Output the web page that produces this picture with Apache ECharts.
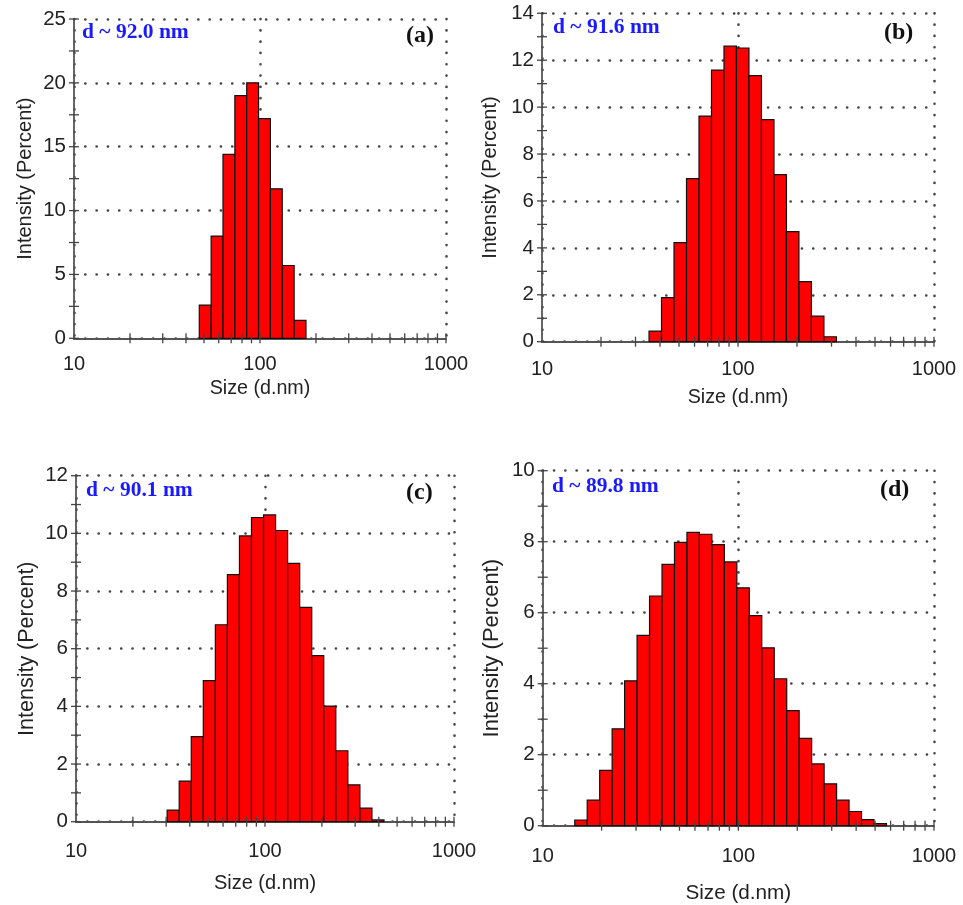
<!DOCTYPE html>
<html>
<head>
<meta charset="utf-8">
<script src="https://cdn.jsdelivr.net/npm/echarts@6/dist/echarts.min.js"></script>
<style>
html,body{margin:0;padding:0;background:#ffffff;}
#chart{width:963px;height:905px;}
</style>
</head>
<body>
<div id="chart"></div>
<script>
// ---- Data (size class centres in nm, intensity in %) ----
const sizesA = [50.75, 58.77, 68.06, 78.82, 91.28, 105.7, 122.4, 141.8, 164.2];
const intensityA = [2.6, 8.0, 14.4, 19.0, 20.0, 17.2, 11.7, 5.7, 1.4];

const sizesB = [37.84, 43.82, 50.75, 58.77, 68.06, 78.82, 91.28, 105.7, 122.4, 141.8, 164.2, 190.1, 220.2, 255.0, 295.3];
const intensityB = [0.45, 1.88, 4.22, 6.95, 9.62, 11.58, 12.6, 12.52, 11.34, 9.47, 7.12, 4.69, 2.56, 1.09, 0.21];

const sizesC = [32.67, 37.84, 43.82, 50.75, 58.77, 68.06, 78.82, 91.28, 105.7, 122.4, 141.8, 164.2, 190.1, 220.2, 255.0, 295.3, 342.0, 396.1];
const intensityC = [0.40, 1.41, 2.95, 4.89, 6.83, 8.57, 9.91, 10.55, 10.64, 10.10, 8.96, 7.43, 5.76, 4.01, 2.46, 1.28, 0.47, 0.06];

const sizesD = [15.69, 18.17, 21.04, 24.36, 28.21, 32.67, 37.84, 43.82, 50.75, 58.77, 68.06, 78.82, 91.28, 105.7, 122.4, 141.8, 164.2, 190.1, 220.2, 255.0, 295.3, 342.0, 396.1, 458.7, 531.2];
const intensityD = [0.16, 0.72, 1.56, 2.73, 4.08, 5.36, 6.47, 7.36, 7.98, 8.26, 8.21, 7.92, 7.43, 6.70, 5.92, 5.01, 4.14, 3.24, 2.46, 1.74, 1.18, 0.72, 0.40, 0.17, 0.06];

// ---- Axis ticks / labels ----
const xTickLabels = ['10', '100', '1000'];
const xMinorTicks = [20, 30, 40, 50, 60, 70, 80, 90, 100, 200, 300, 400, 500, 600, 700, 800, 900, 1000];
const yMaxes = [25, 14, 12, 10];
const yIntervals = [5, 2, 2, 2];
const yMinorSteps = [2.5, 1, 1, 1];
const panelLabels = ['(a)', '(b)', '(c)', '(d)'];
const meanLabels = ['d ~ 92.0 nm', 'd ~ 91.6 nm', 'd ~ 90.1 nm', 'd ~ 89.8 nm'];
const xAxisTitle = 'Size (d.nm)';
const yAxisTitle = 'Intensity (Percent)';

const panels = [
  { sizes: sizesA, vals: intensityA },
  { sizes: sizesB, vals: intensityB },
  { sizes: sizesC, vals: intensityC },
  { sizes: sizesD, vals: intensityD }
];

// ---- Layout (pixels) ----
const grids = [
  { left: 74, top: 19, width: 372, height: 319.3 },
  { left: 542, top: 13.3, width: 392, height: 328.4 },
  { left: 76, top: 475.7, width: 378, height: 346 },
  { left: 542.7, top: 470.7, width: 391.3, height: 355 }
];
const xNameGaps = [40, 46, 52, 57];
const xLabelMargins = [16, 17.5, 19.5, 20.5];
const yNameGaps = [39, 42, 38, 40];
const yNameSizes = [20, 20, 21.5, 22];
const xNameSizes = [19.7, 19.7, 20, 20.7];
const annoPos = [
  { mx: 82, my: 32, lx: 406, ly: 35.5 },
  { mx: 553, my: 27, lx: 884, ly: 33 },
  { mx: 86, my: 490, lx: 406, ly: 493 },
  { mx: 552, my: 486, lx: 880, ly: 490 }
];

const dotted = { color: '#444', width: 2.6, type: [0.1, 11.2], cap: 'round' };
const txt = '#222';

function binEdges(sizes) {
  const r = Math.sqrt(sizes[1] / sizes[0]);
  return sizes.map(function (s) { return [s / r, s * r]; });
}

const option = {
  animation: false,
  backgroundColor: '#ffffff',
  grid: grids.map(function (g) {
    return Object.assign({ containLabel: false, outerBoundsMode: 'none' }, g);
  }),
  xAxis: grids.map(function (g, i) {
    return {
      type: 'log', logBase: 10, gridIndex: i, min: 10, max: 1000,
      name: xAxisTitle, nameLocation: 'middle', nameGap: xNameGaps[i],
      nameTextStyle: { fontFamily: 'Liberation Sans', fontSize: xNameSizes[i], color: txt },
      axisLine: { show: true, onZero: false, lineStyle: { color: '#555', width: 1.8 } },
      axisTick: { show: false },
      axisLabel: {
        fontFamily: 'Liberation Sans', fontSize: 20, color: txt, margin: xLabelMargins[i],
        formatter: function (v) { const k = Math.round(Math.log10(v)) - 1; return xTickLabels[k] || String(v); }
      },
      splitLine: { show: true, lineStyle: dotted },
      minorTick: { show: false }, minorSplitLine: { show: false }
    };
  }),
  yAxis: grids.map(function (g, i) {
    return {
      type: 'value', gridIndex: i, min: 0, max: yMaxes[i], interval: yIntervals[i],
      name: yAxisTitle, nameLocation: 'middle', nameGap: yNameGaps[i],
      nameTextStyle: { fontFamily: 'Liberation Sans', fontSize: yNameSizes[i], color: txt },
      axisLine: { show: true, lineStyle: { color: '#555', width: 1.8 } },
      axisTick: { show: false },
      axisLabel: { fontFamily: 'Liberation Sans', fontSize: 20.5, color: txt, margin: 8 },
      splitLine: { show: true, lineStyle: dotted }
    };
  }),
  series: [],
  graphic: []
};

panels.forEach(function (p, i) {
  const e = binEdges(p.sizes);
  option.series.push({
    type: 'custom', name: 'bars' + i, xAxisIndex: i, yAxisIndex: i, z: 3,
    encode: { x: [0, 1], y: 2 },
    data: p.vals.map(function (v, k) { return [e[k][0], e[k][1], v]; }),
    renderItem: function (params, api) {
      const a = api.coord([api.value(0), 0]);
      const b = api.coord([api.value(1), api.value(2)]);
      return {
        type: 'rect',
        shape: { x: a[0], y: b[1], width: b[0] - a[0], height: a[1] - b[1] },
        style: { fill: '#ff0000', stroke: '#111', lineWidth: 1.2 }
      };
    }
  });
  // x ticks crossing the axis
  option.series.push({
    type: 'custom', name: 'xticks' + i, xAxisIndex: i, yAxisIndex: i, z: 4, silent: true,
    data: xMinorTicks.map(function (v) { return [v, 0]; }),
    renderItem: function (params, api) {
      const c = api.coord([api.value(0), 0]);
      return { type: 'line', shape: { x1: c[0], y1: c[1] - 5, x2: c[0], y2: c[1] + 5 },
        style: { stroke: '#444', lineWidth: 1.3 } };
    }
  });
  // y ticks crossing the axis
  const yt = [];
  for (let v = 0; v <= yMaxes[i] + 1e-9; v += yMinorSteps[i]) yt.push([10, v]);
  option.series.push({
    type: 'custom', name: 'yticks' + i, xAxisIndex: i, yAxisIndex: i, z: 4, silent: true,
    data: yt,
    renderItem: function (params, api) {
      const c = api.coord([10, api.value(1)]);
      return { type: 'line', shape: { x1: c[0] - 5, y1: c[1], x2: c[0] + 5, y2: c[1] },
        style: { stroke: '#444', lineWidth: 1.3 } };
    }
  });
  const ap = annoPos[i];
  option.graphic.push({
    type: 'text', x: ap.mx, y: ap.my, z: 10,
    style: { text: meanLabels[i], font: 'bold 21.5px "Liberation Serif"', fill: '#1a1aff', verticalAlign: 'middle', align: 'left' }
  });
  option.graphic.push({
    type: 'text', x: ap.lx, y: ap.ly, z: 10,
    style: { text: panelLabels[i], font: 'bold 24px "Liberation Serif"', fill: '#111', verticalAlign: 'middle', align: 'left' }
  });
});

const chart = echarts.init(document.getElementById('chart'), null, { renderer: 'canvas' });
chart.setOption(option);
</script>
</body>
</html>
